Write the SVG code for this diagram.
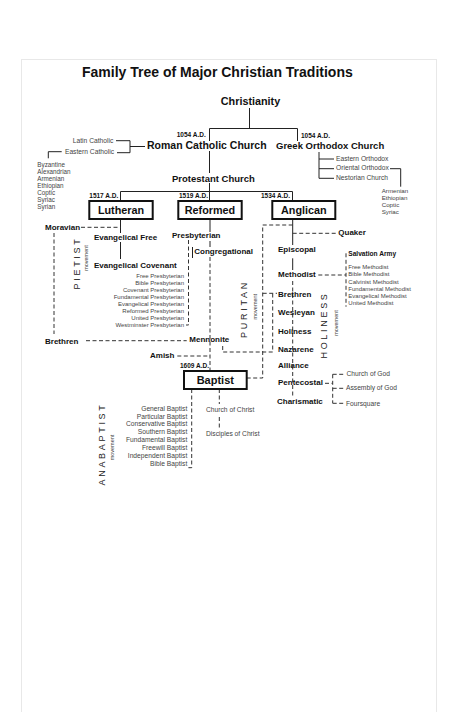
<svg xmlns="http://www.w3.org/2000/svg" width="474" height="712" viewBox="0 0 474 712">
<style>
text{font-family:"Liberation Sans",Arial,sans-serif;fill:#111}
.title{font-size:14px;font-weight:bold}
.main{font-size:10px;font-weight:bold}
.boxt{font-size:10.8px;font-weight:bold;text-anchor:middle}
.lab{font-size:8px;font-weight:bold}
.date{font-size:6.5px;font-weight:bold}
.sm{font-size:6px;fill:#444}
.md{font-size:6.7px;fill:#444}
.rot{font-size:9px;letter-spacing:2.7px;fill:#222;text-anchor:middle}
.mov{font-size:5.5px;fill:#444;text-anchor:middle}
.end{text-anchor:end}
.ln{stroke:#222;stroke-width:1;fill:none}
.dl{stroke:#333;stroke-width:1;fill:none;stroke-dasharray:4 2.5}
.box{fill:#fff;stroke:#111;stroke-width:2}
</style>
<rect x="0" y="0" width="474" height="712" fill="#fff"/>
<rect x="21.5" y="59.5" width="415" height="680" fill="none" stroke="#e8e8e8" stroke-width="1"/>
<text class="title" x="82" y="77">Family Tree of Major Christian Traditions</text>

<g id="connectors">
  <path class="ln" d="M249.5 108V128.5M209.5 128.5H297.5M209.5 128.5V141M297.5 128.5V141"/>
  <path class="ln" d="M209.5 151V173M209.5 183V201M120.5 191.5H292.5M120.5 191.5V201M292.5 191.5V201"/>
  <path class="ln" d="M116 140.7H130V152.7H117M130 146.5H145M61.7 151.7H48.3V158.3"/>
  <path class="ln" d="M319 152V178.3M319 159H334M319 168.7H334M319 178.3H334M390 168.7H400.7V186.7"/>
  <path class="ln" d="M120.5 219V233M120.5 242V259"/>
  <path class="dl" d="M81 227.3H120.5M54 233V334"/>
  <path class="ln" d="M210 219V232M210 241V247M192.5 247V258"/>
  <path class="dl" d="M188.5 240V325H186M210 257V371"/>
  <path class="dl" d="M86 340.7H186.7M177.3 356H210M222.7 346V352H272.7V293.3M262.7 293.3H277"/>
  <path class="ln" d="M292.7 219V245M292.7 258.3V270"/>
  <path class="dl" d="M292.7 225H262.7V378H247M292.7 233.3H336M318.3 275H346M346 253.3V306.7M292.7 281V396"/>
  <path class="dl" d="M325 383.3H332.7M332.7 374.3V403.3M332.7 374.3H345M332.7 388.3H345M332.7 403.3H345"/>
  <path class="dl" d="M191.7 389V467.7H187.5M219.3 389V404M219.3 417V428"/>
</g>

<g id="christianity"><text class="main" x="250.5" y="105" text-anchor="middle" style="font-size:10.8px">Christianity</text></g>
<g id="roman-catholic">
  <text class="date end" x="205.7" y="137.3">1054 A.D.</text>
  <text class="main" x="147" y="149.3" style="font-size:10.5px">Roman Catholic Church</text>
</g>
<g id="catholic-branches">
  <text class="md end" x="113.3" y="142.7">Latin Catholic</text>
  <text class="md end" x="114" y="154">Eastern Catholic</text>
  <text class="sm" x="37.3" y="166.5" style="font-size:6.3px">Byzantine</text>
  <text class="sm" x="37.3" y="173.6" style="font-size:6.3px">Alexandrian</text>
  <text class="sm" x="37.3" y="180.7" style="font-size:6.3px">Armenian</text>
  <text class="sm" x="37.3" y="187.8" style="font-size:6.3px">Ethiopian</text>
  <text class="sm" x="37.3" y="194.9" style="font-size:6.3px">Coptic</text>
  <text class="sm" x="37.3" y="202" style="font-size:6.3px">Syriac</text>
  <text class="sm" x="37.3" y="209.1" style="font-size:6.3px">Syrian</text>
</g>
<g id="greek-orthodox">
  <text class="date" x="301" y="138.3">1054 A.D.</text>
  <text class="main" x="276" y="149.3" style="font-size:9.5px">Greek Orthodox Church</text>
  <text class="md" x="336" y="160.7">Eastern Orthodox</text>
  <text class="md" x="336" y="170.3">Oriental Orthodox</text>
  <text class="md" x="336" y="180">Nestorian Church</text>
  <text class="sm" x="381.7" y="193.3" style="font-size:6.2px">Armenian</text>
  <text class="sm" x="381.7" y="200.3" style="font-size:6.2px">Ethiopian</text>
  <text class="sm" x="381.7" y="207.3" style="font-size:6.2px">Coptic</text>
  <text class="sm" x="381.7" y="214.3" style="font-size:6.2px">Syriac</text>
</g>
<g id="protestant"><text class="main" x="172" y="181.5" style="font-size:9.5px">Protestant Church</text></g>

<g id="lutheran">
  <text class="date end" x="118.3" y="198">1517 A.D.</text>
  <rect class="box" x="89.3" y="201" width="63.4" height="18"/>
  <text class="boxt" x="121" y="213.9">Lutheran</text>
</g>
<g id="reformed">
  <text class="date end" x="208" y="198">1519 A.D.</text>
  <rect class="box" x="178.3" y="201" width="63.4" height="18"/>
  <text class="boxt" x="210" y="213.9">Reformed</text>
</g>
<g id="anglican">
  <text class="date end" x="290" y="198">1534 A.D.</text>
  <rect class="box" x="272.3" y="201" width="63" height="18"/>
  <text class="boxt" x="303.8" y="213.9">Anglican</text>
</g>

<g id="lutheran-branches">
  <text class="lab" x="45" y="230">Moravian</text>
  <text class="lab" x="94" y="240">Evangelical Free</text>
  <text class="lab" x="94" y="267.7">Evangelical Covenant</text>
  <text class="rot" transform="translate(80,263) rotate(-90)">PIETIST</text>
  <text class="mov" transform="translate(88.3,258) rotate(-90)">movement</text>
  <text class="lab" x="45" y="344">Brethren</text>
</g>
<g id="reformed-branches">
  <text class="lab" x="172" y="238">Presbyterian</text>
  <text class="lab" x="194.3" y="254.3">Congregational</text>
  <text class="sm end" x="184" y="278.3">Free Presbyterian</text>
  <text class="sm end" x="184" y="285.3">Bible Presbyterian</text>
  <text class="sm end" x="184" y="292.3">Covenant Presbyterian</text>
  <text class="sm end" x="184" y="299.3">Fundamental Presbyterian</text>
  <text class="sm end" x="184" y="306.3">Evangelical Presbyterian</text>
  <text class="sm end" x="184" y="313.3">Reformed Presbyterian</text>
  <text class="sm end" x="184" y="320.3">United Presbyterian</text>
  <text class="sm end" x="184" y="327.3">Westminster Presbyterian</text>
  <text class="lab" x="189.3" y="341.7">Mennonite</text>
  <text class="lab" x="150" y="358.3">Amish</text>
  <text class="rot" transform="translate(246.6,309) rotate(-90)">PURITAN</text>
  <text class="mov" transform="translate(256.6,306.7) rotate(-90)">movement</text>
</g>
<g id="anglican-branches">
  <text class="lab" x="338.3" y="235">Quaker</text>
  <text class="lab" x="278" y="252.3">Episcopal</text>
  <text class="lab" x="278" y="277.3">Methodist</text>
  <text class="lab" x="348.3" y="255.7" style="font-size:6.6px">Salvation Army</text>
  <text class="sm" x="348.3" y="269.3">Free Methodist</text>
  <text class="sm" x="348.3" y="276.4">Bible Methodist</text>
  <text class="sm" x="348.3" y="283.5">Calvinist Methodist</text>
  <text class="sm" x="348.3" y="290.6">Fundamental Methodist</text>
  <text class="sm" x="348.3" y="297.7">Evangelical Methodist</text>
  <text class="sm" x="348.3" y="304.8">United Methodist</text>
  <text class="lab" x="278" y="296.7">Brethren</text>
  <text class="lab" x="278" y="315">Wesleyan</text>
  <text class="lab" x="278" y="334">Holiness</text>
  <text class="lab" x="278" y="352.3">Nazarene</text>
  <text class="lab" x="278" y="368.3">Alliance</text>
  <text class="lab" x="278" y="385">Pentecostal</text>
  <text class="lab" x="277" y="403.8">Charismatic</text>
  <text class="md" x="346.5" y="375.7">Church of God</text>
  <text class="md" x="346" y="390">Assembly of God</text>
  <text class="md" x="346" y="405.5">Foursquare</text>
  <text class="rot" transform="translate(326.6,325) rotate(-90)">HOLINESS</text>
  <text class="mov" transform="translate(338.3,323) rotate(-90)">movement</text>
</g>
<g id="baptist">
  <text class="date" x="180" y="368.3">1609 A.D.</text>
  <rect class="box" x="184" y="371" width="62.7" height="18"/>
  <text class="boxt" x="215.3" y="384" style="font-size:11px">Baptist</text>
  <text class="md end" x="187.3" y="410.7">General Baptist</text>
  <text class="md end" x="187.3" y="418.6">Particular Baptist</text>
  <text class="md end" x="187.3" y="426.4">Conservative Baptist</text>
  <text class="md end" x="187.3" y="434.3">Southern Baptist</text>
  <text class="md end" x="187.3" y="442.1">Fundamental Baptist</text>
  <text class="md end" x="187.3" y="450">Freewill Baptist</text>
  <text class="md end" x="187.3" y="457.8">Independent Baptist</text>
  <text class="md end" x="187.3" y="465.7">Bible Baptist</text>
  <text class="md" x="206" y="411.7">Church of Christ</text>
  <text class="md" x="206" y="435.7">Disciples of Christ</text>
  <text class="rot" transform="translate(105,444) rotate(-90)">ANABAPTIST</text>
  <text class="mov" transform="translate(113.8,447.5) rotate(-90)">movement</text>
</g>
</svg>
